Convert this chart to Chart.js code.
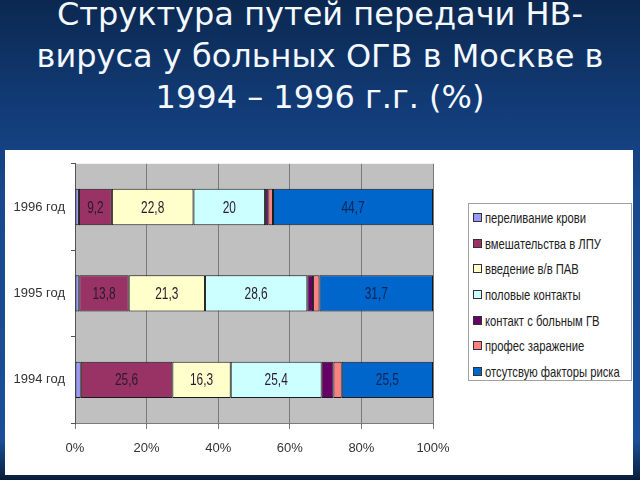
<!DOCTYPE html>
<html><head><meta charset="utf-8">
<script src="https://cdn.jsdelivr.net/npm/chart.js@4.4.0/dist/chart.umd.min.js"></script>
<style>
html,body{margin:0;padding:0;width:640px;height:480px;overflow:hidden;}
body{position:relative;background:linear-gradient(180deg,#0b2850 0px,#123c78 110px,#18498f 200px,#1a4f98 440px,#0b2345 476px,#081a35 480px);font-family:"Liberation Sans",sans-serif;}
#title{position:absolute;left:0;top:-6px;width:640px;text-align:center;color:#f4f8ff;font-family:"DejaVu Sans",sans-serif;font-size:32px;line-height:41.5px;}
#box{position:absolute;left:5px;top:150px;width:628px;height:325px;background:#fff;}
#c{position:absolute;left:0;top:0;}
#legend{position:absolute;left:463px;top:53px;width:164px;height:178px;border:1px solid #a0a0a0;background:#fff;box-sizing:border-box;padding-top:1px;}
.li{height:25.6px;display:flex;align-items:center;color:#222;white-space:nowrap;}
.sw{width:7px;height:7px;border:1px solid #333;margin-left:4px;margin-right:3px;flex:none;}
.tx{font-size:15px;display:inline-block;transform:scaleX(0.75);transform-origin:0 50%;}
</style></head>
<body>
<div id="title">Структура путей передачи НВ-<br>вируса у больных ОГВ в Москве в<br>1994 – 1996 г.г. (%)</div>
<div id="box"><canvas id="c" width="628" height="325"></canvas><div id="legend"></div></div>
<script>
const categories = ['1996 год', '1995 год', '1994 год'];
const seriesNames = ['переливание крови', 'вмешательства в ЛПУ', 'введение в/в ПАВ', 'половые контакты', 'контакт с больным ГВ', 'профес заражение', 'отсутсвую факторы риска'];
const transfusion = [1.1, 1.2, 1.6];
const medical = [9.2, 13.8, 25.6];
const drugs = [22.8, 21.3, 16.3];
const sexual = [20, 28.6, 25.4];
const contact = [0.9, 1.6, 3.3];
const professional = [1.3, 1.8, 2.3];
const noRisk = [44.7, 31.7, 25.5];
const xTicks = [0, 20, 40, 60, 80, 100];
const colors = ['#9999ff', '#993366', '#ffffcc', '#ccffff', '#660066', '#ff8080', '#0066cc'];
const seriesValues = [transfusion, medical, drugs, sexual, contact, professional, noRisk];

const datasets = seriesValues.map((d, i) => ({
  label: seriesNames[i], data: d, backgroundColor: colors[i],
  borderColor: '#1a1a1a', borderWidth: 1, borderSkipped: false,
  categoryPercentage: 1.0, barPercentage: 0.42
}));

const plotBg = {
  id: 'plotBg',
  beforeDraw(chart) {
    const a = chart.chartArea, ctx = chart.ctx;
    ctx.save(); ctx.fillStyle = '#c0c0c0';
    ctx.fillRect(a.left, a.top, a.right - a.left, a.bottom - a.top);
    ctx.restore();
  }
};
const valueLabels = {
  id: 'valueLabels',
  afterDatasetsDraw(chart) {
    const ctx = chart.ctx;
    chart.data.datasets.forEach((ds, i) => {
      const meta = chart.getDatasetMeta(i);
      meta.data.forEach((el, j) => {
        const v = ds.data[j];
        if (v < 5) return;
        const p = el.getCenterPoint();
        ctx.save();
        ctx.font = '17px "Liberation Sans", sans-serif';
        ctx.textAlign = 'center'; ctx.textBaseline = 'middle';
        ctx.fillStyle = i === 6 ? '#0f2550' : '#2a1a30';
        ctx.translate(p.x, p.y + 1);
        ctx.scale(0.7, 1);
        ctx.fillText(String(v).replace('.', ','), 0, 0);
        ctx.restore();
      });
    });
  }
};

new Chart(document.getElementById('c'), {
  type: 'bar',
  data: { labels: categories, datasets },
  options: {
    indexAxis: 'y', responsive: false, animation: false,
    layout: { padding: { left: 0, right: 200, top: 12, bottom: 0 } },
    plugins: { legend: { display: false }, tooltip: { enabled: false } },
    scales: {
      x: {
        stacked: true, min: 0, max: 100,
        afterBuildTicks(s) { s.ticks = xTicks.map(v => ({ value: v })); },
        afterFit(s) { s.height = 52; },
        ticks: { callback: v => v + '%', color: '#333', padding: 12,
          font: { family: '"Liberation Sans", sans-serif', size: 13 } },
        grid: { color: '#7a7a7a', lineWidth: 1, tickLength: 6, tickColor: '#7a7a7a' },
        border: { display: true, color: '#7a7a7a' }
      },
      y: {
        stacked: true,
        afterFit(s) { s.width = 70; },
        ticks: { color: '#333', padding: 6,
          font: { family: '"Liberation Sans", sans-serif', size: 13 } },
        grid: { drawOnChartArea: false, offset: true, tickLength: 4, tickColor: '#555', color: '#555' },
        border: { display: true, color: '#555' }
      }
    }
  },
  plugins: [plotBg, valueLabels]
});

const lg = document.getElementById('legend');
seriesNames.forEach((n, i) => {
  const d = document.createElement('div'); d.className = 'li';
  const s = document.createElement('span'); s.className = 'sw'; s.style.background = colors[i];
  const t = document.createElement('span'); t.className = 'tx'; t.textContent = n;
  d.appendChild(s); d.appendChild(t); lg.appendChild(d);
});
</script>
</body></html>
